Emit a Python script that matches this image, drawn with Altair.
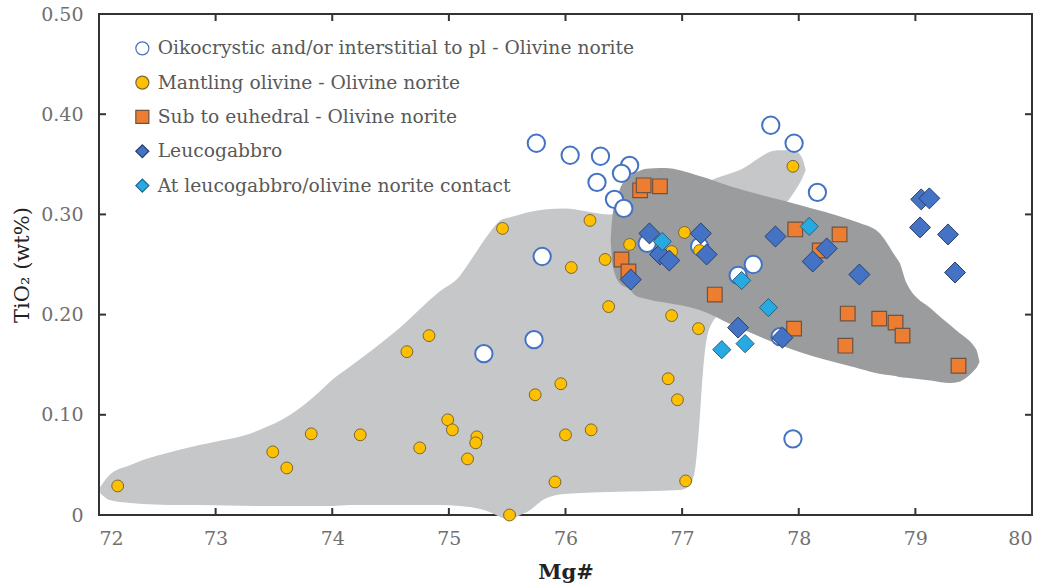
import altair as alt
import pandas as pd

# ---------------- data ----------------
groups = [
    "Oikocrystic and/or interstitial to pl - Olivine norite",
    "Mantling olivine - Olivine norite",
    "Sub to euhedral - Olivine norite",
    "Leucogabbro",
    "At leucogabbro/olivine norite contact",
]

open_x = [75.75, 76.04, 76.30, 76.55, 76.48, 76.27, 76.42, 76.50, 75.80, 75.30,
          75.73, 77.76, 77.96, 78.16, 77.95, 77.61, 77.48, 76.70, 77.15, 77.84]
open_y = [0.371, 0.359, 0.358, 0.349, 0.341, 0.332, 0.315, 0.306, 0.258, 0.161,
          0.175, 0.389, 0.371, 0.322, 0.076, 0.250, 0.239, 0.271, 0.268, 0.178]

mant_x = [72.16, 73.49, 73.61, 73.82, 74.24, 74.75, 74.64, 74.83, 74.99, 75.03,
          75.24, 75.23, 75.16, 75.52, 75.74, 75.96, 76.00, 76.22, 75.91, 76.88,
          76.96, 77.03, 75.46, 76.05, 76.21, 76.34, 76.55, 77.02, 76.37, 76.91,
          77.14, 77.95, 76.91, 77.15]
mant_y = [0.029, 0.063, 0.047, 0.081, 0.080, 0.067, 0.163, 0.179, 0.095, 0.085,
          0.078, 0.072, 0.056, 0.000, 0.120, 0.131, 0.080, 0.085, 0.033, 0.136,
          0.115, 0.034, 0.286, 0.247, 0.294, 0.255, 0.270, 0.282, 0.208, 0.199,
          0.186, 0.348, 0.263, 0.264]

sub_x = [76.64, 76.67, 76.81, 76.48, 76.54, 77.28, 77.97, 77.96, 78.35, 78.18,
         78.42, 78.40, 78.69, 78.83, 78.89, 79.37]
sub_y = [0.324, 0.329, 0.328, 0.255, 0.243, 0.220, 0.285, 0.186, 0.280, 0.264,
         0.201, 0.169, 0.196, 0.192, 0.179, 0.149]

leu_x = [76.72, 76.81, 76.89, 76.56, 77.16, 77.21, 77.80, 77.48, 77.86, 78.12,
         78.24, 78.52, 79.05, 79.12, 79.04, 79.28, 79.34]
leu_y = [0.281, 0.260, 0.254, 0.235, 0.281, 0.260, 0.278, 0.187, 0.177, 0.253,
         0.266, 0.240, 0.315, 0.316, 0.287, 0.280, 0.242]

con_x = [76.83, 77.51, 77.74, 77.54, 77.34, 78.09]
con_y = [0.273, 0.234, 0.207, 0.171, 0.165, 0.288]

# shaded fields (outline)
light_x  = [72.01, 72.09, 72.27, 72.69, 72.87, 73.38, 73.64, 73.89, 74.00, 74.15,
            74.58, 74.92, 75.09, 75.18, 75.35, 75.44, 75.52, 75.61, 75.67, 75.82,
            75.99, 76.38, 76.98, 77.06, 77.11, 77.15, 77.18, 77.23, 77.49, 77.82,
            77.96, 78.03, 78.06]
light_lo = [0.022, 0.015, 0.012, 0.010, 0.010, 0.009, 0.009, 0.009, 0.009, 0.010,
            0.010, 0.010, 0.009, 0.008, 0.003, -0.002, -0.005, 0.000, 0.003, 0.016,
            0.021, 0.023, 0.025, 0.029, 0.045, 0.095, 0.145, 0.185, 0.220, 0.300,
            0.322, 0.336, 0.344]
light_hi = [0.028, 0.040, 0.050, 0.065, 0.070, 0.085, 0.100, 0.123, 0.135, 0.148,
            0.187, 0.223, 0.238, 0.253, 0.282, 0.294, 0.297, 0.300, 0.302, 0.305,
            0.306, 0.300, 0.318, 0.322, 0.325, 0.328, 0.330, 0.333, 0.344, 0.364,
            0.364, 0.356, 0.344]

dark_x  = [76.387, 76.404, 76.464, 76.55, 76.593, 76.679, 76.764, 76.85, 77.15, 77.433,
           78.007, 78.435, 78.521, 78.692, 78.838, 78.864, 78.924, 79.147, 79.292, 79.378,
           79.421, 79.507, 79.524, 79.55]
dark_lo = [0.2745, 0.2495, 0.2315, 0.225, 0.2196, 0.216, 0.2136, 0.212, 0.2046, 0.1896,
           0.1627, 0.1487, 0.146, 0.141, 0.1385, 0.1377, 0.137, 0.134, 0.1317, 0.133,
           0.1357, 0.1447, 0.147, 0.1527]
dark_hi = [0.2745, 0.2994, 0.3244, 0.3383, 0.341, 0.3453, 0.346, 0.3463, 0.3383, 0.3273,
           0.3094, 0.295, 0.2914, 0.2814, 0.2565, 0.252, 0.2315, 0.2046, 0.19, 0.1816,
           0.178, 0.168, 0.1647, 0.1527]

x_ticks = [72, 73, 74, 75, 76, 77, 78, 79, 80]
y_ticks = [0.0, 0.1, 0.2, 0.3, 0.4, 0.5]

# ---------------- styling ----------------
W, H = 933, 501
FONT = "DejaVu Serif"
shapes  = ["circle", "circle", "square", "diamond", "diamond"]
fills   = ["#ffffff", "#ffc000", "#ed7d31", "#4472c4", "#27a9e1"]
strokes = ["#4472c4", "#7a6630", "#6e5242", "#2b3f66", "#2a6080"]
sizes   = [300, 140, 215, 440, 330]
swidths = [2, 1, 1.2, 1, 1]

xscale = alt.Scale(domain=[72, 80], nice=False, zero=False)
yscale = alt.Scale(domain=[0, 0.5], nice=False, zero=False)

xaxis = alt.Axis(values=x_ticks, title="Mg#", domain=False, ticks=False, grid=False,
                 labelFont=FONT, labelFontSize=19, labelColor="#707070", labelPadding=14,
                 titleFont=FONT, titleFontSize=21, titleColor="#222222",
                 titleFontWeight="bold", titlePadding=13, format="d")
yaxis = alt.Axis(values=y_ticks, title="TiO₂ (wt%)", domain=False, ticks=False, grid=False,
                 labelFont=FONT, labelFontSize=19, labelColor="#707070", labelPadding=16,
                 labelExpr="datum.value == 0 ? '0' : format(datum.value, '.2f')",
                 titleFont=FONT, titleFontSize=21, titleColor="#222222",
                 titleFontWeight="normal", titlePadding=8)

light = alt.Chart(pd.DataFrame({"x": light_x, "lo": light_lo, "hi": light_hi})).mark_area(
    color="#c6c7c9", opacity=1, interpolate="monotone"
).encode(x=alt.X("x:Q", scale=xscale, axis=xaxis), y=alt.Y("hi:Q", scale=yscale, axis=yaxis), y2="lo:Q")

dark = alt.Chart(pd.DataFrame({"x": dark_x, "lo": dark_lo, "hi": dark_hi})).mark_area(
    color="#9b9c9e", opacity=1, interpolate="monotone"
).encode(x=alt.X("x:Q", scale=xscale), y=alt.Y("hi:Q", scale=yscale), y2="lo:Q")

legend = alt.Legend(title=None, orient="none", legendX=34, legendY=25,
                    labelFont=FONT, labelFontSize=18.7, labelColor="#595959",
                    symbolSize=170, symbolStrokeWidth=1.2, rowPadding=14.3,
                    labelLimit=700, labelOffset=6)

point_layers = []
for i, (g, xs, ys) in enumerate(zip(groups, [open_x, mant_x, sub_x, leu_x, con_x],
                                    [open_y, mant_y, sub_y, leu_y, con_y])):
    df = pd.DataFrame({"mg": xs, "ti": ys, "group": [g] * len(xs)})
    layer = alt.Chart(df).mark_point(filled=True, opacity=1, size=sizes[i],
                                     strokeWidth=swidths[i]).encode(
        x=alt.X("mg:Q", scale=xscale),
        y=alt.Y("ti:Q", scale=yscale),
        shape=alt.Shape("group:N", scale=alt.Scale(domain=groups, range=shapes), legend=legend),
        fill=alt.Fill("group:N", scale=alt.Scale(domain=groups, range=fills), legend=legend),
        stroke=alt.Stroke("group:N", scale=alt.Scale(domain=groups, range=strokes), legend=legend),
    )
    point_layers.append(layer)

tick_col = "#333333"
xt = pd.DataFrame({"t": x_ticks[1:-1]})
yt = pd.DataFrame({"t": y_ticks[1:-1]})
bottom_t = alt.Chart(xt).mark_rule(color=tick_col, strokeWidth=2).encode(
    x=alt.X("t:Q", scale=xscale), y=alt.value(H), y2=alt.value(H - 7))
top_t = alt.Chart(xt).mark_rule(color=tick_col, strokeWidth=2).encode(
    x=alt.X("t:Q", scale=xscale), y=alt.value(0), y2=alt.value(7))
left_t = alt.Chart(yt).mark_rule(color=tick_col, strokeWidth=2).encode(
    y=alt.Y("t:Q", scale=yscale), x=alt.value(0), x2=alt.value(7))
right_t = alt.Chart(yt).mark_rule(color=tick_col, strokeWidth=2).encode(
    y=alt.Y("t:Q", scale=yscale), x=alt.value(W), x2=alt.value(W - 7))

chart = alt.layer(light, dark, bottom_t, top_t, left_t, right_t, *point_layers).properties(
    width=W, height=H,
    autosize=alt.AutoSizeParams(type="none"),
    padding={"left": 99, "top": 14, "right": 16, "bottom": 70},
    background="white",
).configure_view(stroke="#333333", strokeWidth=2)

chart.save("out.html", embed_options={"renderer": "svg", "actions": False})
